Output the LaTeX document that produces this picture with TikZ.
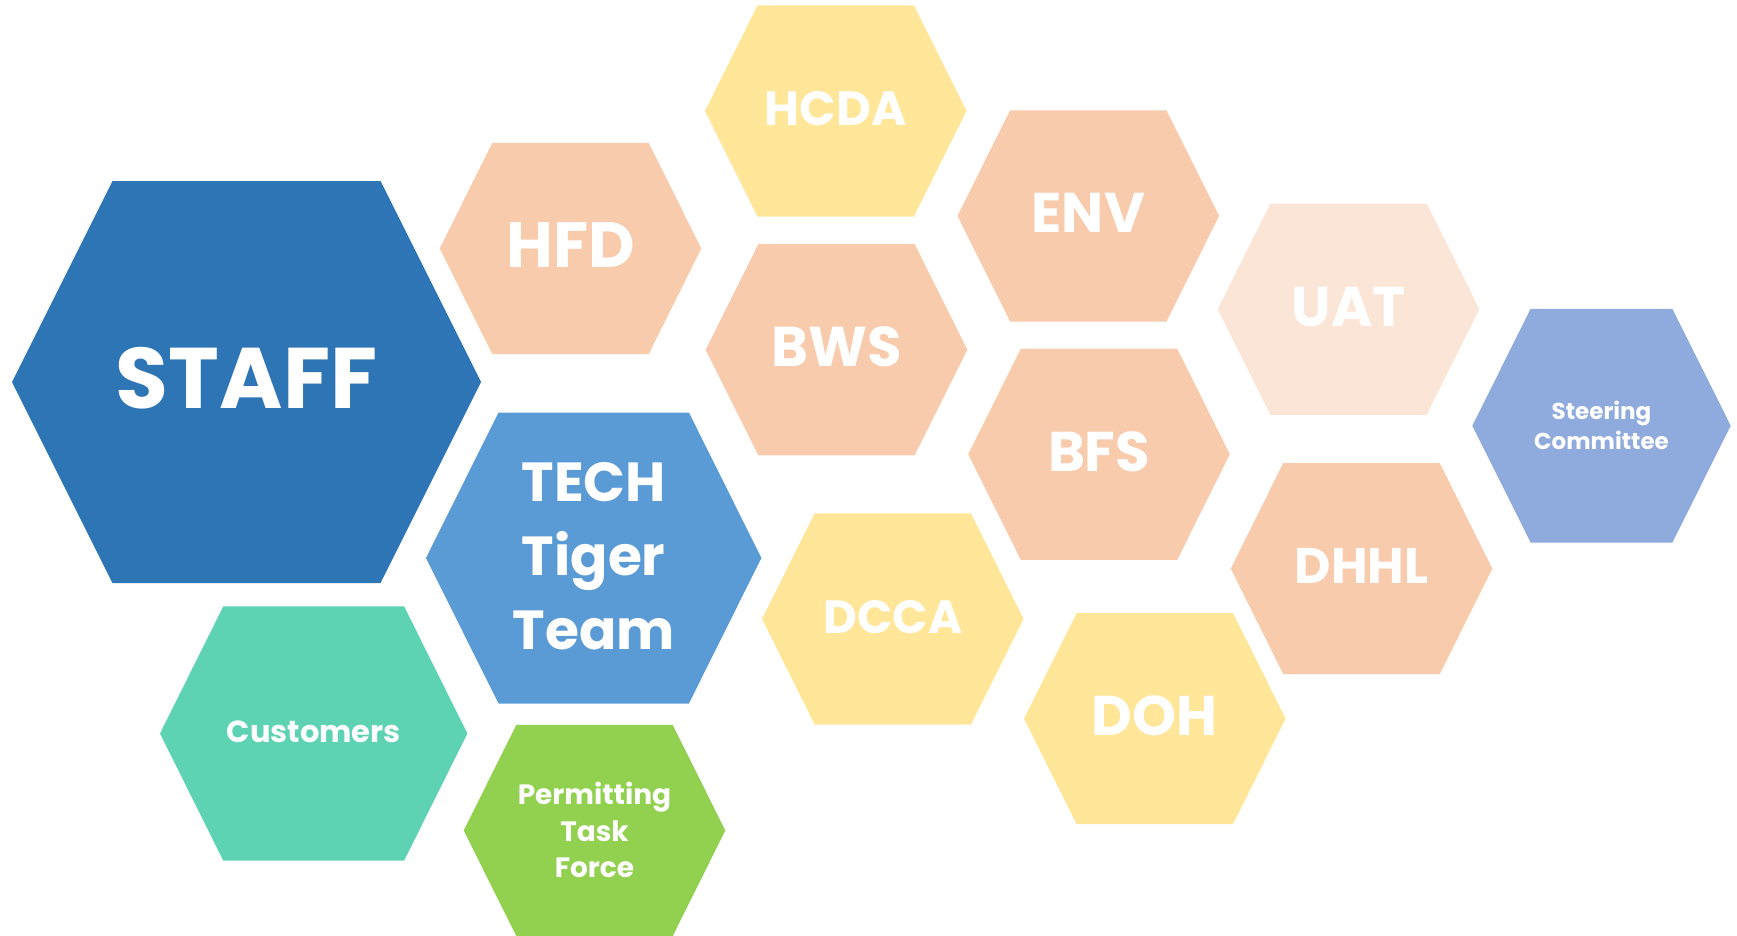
\documentclass[tikz,border=0pt]{standalone}
\usepackage{fontspec}
\setmainfont{Poppins}
\usepackage{xcolor}
\usepackage{tikz}

\definecolor{staffblue}{HTML}{2E75B6}
\definecolor{techblue}{HTML}{5B9BD5}
\definecolor{steerblue}{HTML}{8FAADC}
\definecolor{peach}{HTML}{F8CBAD}
\definecolor{palepeach}{HTML}{FBE5D6}
\definecolor{gold}{HTML}{FFE699}
\definecolor{teal}{HTML}{5DD3B4}
\definecolor{leaf}{HTML}{92D050}

% fill, centre, half width, half top edge, half height
\newcommand{\hexcell}[5]{%
  \fill[#1, shift={#2}] (-#3,0) -- (-#4,-#5) -- (#4,-#5) -- (#3,0) -- (#4,#5) -- (-#4,#5) -- cycle;}
\newcommand{\smallhex}[2]{\hexcell{#1}{#2}{130.8}{78.2}{105.6}}

\begin{document}
\begin{tikzpicture}[x=1pt, y=-1pt,
          every node/.style={text=white, align=center, inner sep=0pt},
          huge/.style={font=\fontsize{86}{90}\selectfont\bfseries},
          big/.style={font=\fontsize{64}{70}\selectfont\bfseries},
          mid/.style={font=\fontsize{56}{60}\selectfont\bfseries},
          low/.style={font=\fontsize{48}{52}\selectfont\bfseries},
          tiger/.style={font=\fontsize{55}{74}\selectfont\bfseries},
          small/.style={font=\fontsize{30.5}{36}\selectfont\bfseries},
          tiny/.style={font=\fontsize{28}{36.7}\selectfont\bfseries},
          tinier/.style={font=\fontsize{23}{30}\selectfont\bfseries},
        ]
    \useasboundingbox (0,0) rectangle (1737,935);

    % hexagons
    \hexcell{staffblue}{(246.5,382)}{234.5}{134}{201}
    \hexcell{techblue}{(593.7,558)}{167.7}{95.2}{145.5}
    \hexcell{teal}{(313.7,733.5)}{153.7}{90.4}{127.2}
    \hexcell{steerblue}{(1601.5,425.7)}{129.2}{70.9}{116.8}
    \smallhex{peach}{(570.5,248.5)}
    \smallhex{gold}{(835.7,111)}
    \smallhex{peach}{(836.5,349.7)}
    \smallhex{peach}{(1088.3,215.9)}
    \smallhex{palepeach}{(1348.5,309.2)}
    \smallhex{peach}{(1099,454.3)}
    \smallhex{peach}{(1361.5,568.6)}
    \smallhex{gold}{(892.8,618.9)}
    \smallhex{gold}{(1154.8,718.6)}
    \smallhex{leaf}{(594.5,830.5)}

    % labels
    \node[huge] (staff) at (246.5,378) {STAFF};
    \node[tiger] (tech) at (593.7,556) {TECH\\Tiger\\Team};
    \node[small] (customers) at (313.7,732) {Customers};
    \node[tinier] (steering) at (1601.5,425) {Steering\\Committee};
    \node[big] (hfd) at (570.5,245.5) {HFD};
    \node[low] (hcda) at (835.7,109) {HCDA};
    \node[mid] (bws) at (836.5,347) {BWS};
    \node[mid] (env) at (1088.3,213) {ENV};
    \node[mid] (uat) at (1348.5,307) {UAT};
    \node[mid] (bfs) at (1099,452) {BFS};
    \node[low, font=\fontsize{50}{54}\selectfont\bfseries] (dhhl) at (1361.5,566) {DHHL};
    \node[low, font=\fontsize{46.5}{50}\selectfont\bfseries] (dcca) at (892.8,617) {DCCA};
    \node[mid] (doh) at (1154.8,716) {DOH};
    \node[tiny] (permit) at (594.5,830) {Permitting\\Task\\Force};
\end{tikzpicture}
\end{document}
